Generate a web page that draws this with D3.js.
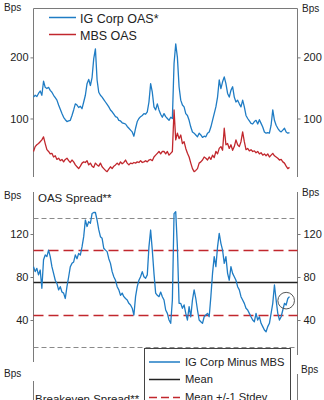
<!DOCTYPE html>
<html><head><meta charset="utf-8">
<script src="https://cdn.jsdelivr.net/npm/d3@7"></script>
<style>
body{margin:0;background:#fff}
svg{display:block;font-family:"Liberation Sans",Arial,sans-serif}
</style>
</head><body>
<svg id="c" width="324" height="400"></svg>
<script>
// ---- data ----
const igCorpOAS = [
135,138,136,141,145,138,161,151,149,151,
146,143,138,134,130,122,115,108,102,98,
95,96,97,105,114,124,122,118,120,116,
127,138,157,164,154,167,198,214,163,143,
138,135,131,127,123,119,114,111,107,103,
102,97,96,93,92,91,87,84,81,78,
71,84,95,100,103,105,108,107,111,127,
157,143,119,114,124,114,107,102,
108,103,100,97,102,100,190,222,200,152,
130,122,119,108,105,97,86,78,76,73,
70,76,73,69,71,70,76,78,86,97,
108,119,135,163,149,160,168,157,141,135,
146,152,135,127,130,124,119,130,119,105,
100,96,92,91,95,97,91,98,92,86,
78,76,77,76,89,114,97,89,84,80,
78,81,84,78,76,77
];
const mbsOAS = [
46,54,57,59,62,65,70,59,49,46,
42,43,37,39,33,35,31,33,29,33,
35,31,28,32,29,24,21,18,22,27,
29,28,31,24,27,22,20,27,24,22,
27,21,18,15,13,17,21,18,22,24,
27,24,29,26,28,32,27,24,27,26,
28,27,29,28,31,28,29,31,29,32,
33,31,37,40,43,46,42,46,
46,42,46,40,43,46,114,65,76,67,
73,59,62,51,43,37,27,18,13,15,
18,27,29,32,37,35,32,37,33,40,
36,46,42,51,54,48,84,57,59,51,
57,48,54,65,57,54,62,78,62,49,
51,47,49,46,47,44,46,42,44,40,
42,39,42,37,40,43,39,37,35,32,
33,29,27,22,18,20
];
const igMinusMBS = [
89.6,85,88,82,86.5,69.5,96,100.5,99,105,
99,89.6,83.4,77,74,68,71,66,65,60,
71,80,89.6,92.7,94,100.5,97,102,100.5,108,
117.5,133,127,131.5,130,139,140,140,133,124,
117.5,116,106.7,105,103.6,97,92.7,85,80.3,77,
71,68,63,65,61.7,60,58.6,55.5,54,51,
44.6,61.7,71,77,80.3,85,80.3,78.8,82,108,
123.7,105,83.4,65,63,61.7,66,61.7,
58.6,49.3,46.2,40,36.9,58.6,139,140.8,108,55.5,
55.5,50.9,54,46.2,40,52.4,43,58.6,68,60,
49.3,40,38.4,36.9,43,44.6,46.2,43,61.7,83.4,
99,89.6,108,120.6,111.3,105,92.7,99,83.4,77,
89.6,83.4,80.3,77,71,68,61.7,58.6,55.5,50.9,
49.3,46.2,43,40,38.4,46.2,40,43,36.9,33.8,
30.7,29,33.8,36.9,46.2,55.5,72.6,58.6,46.2,40,
43,49.3,55.5,54,60,61.7
];
const topTicks = [100, 200];
const midTicks = [40, 80, 120];
const spreadMean = 75;
const spreadStdev = 30;
const highlight = {index: 151, value: 58};
const topLegend = ["IG Corp OAS*", "MBS OAS"];
const midLegend = ["IG Corp Minus MBS", "Mean", "Mean +/-1 Stdev"];
const panelTitles = ["OAS Spread**", "Breakeven Spread**"];
const unitLabel = "Bps";

// ---- drawing ----
const BLUE = "#1f7cc4", RED = "#c1272d", AX = "#7a7a7a", TXT = "#222";
const svg = d3.select("#c");
const N = igCorpOAS.length;
const xL = 33.5, xR = 297.5;
const x = d3.scaleLinear().domain([0, N - 1]).range([33.5, 289.5]);
const yTop = d3.scaleLinear().domain([0, 280]).range([179.6, 8.5]);
const yMid = d3.scaleLinear().domain([0, 160]).range([363, 191]);

function vline(xx, y1, y2){
  svg.append("line").attr("x1", xx).attr("x2", xx).attr("y1", y1).attr("y2", y2)
    .attr("stroke", AX).attr("stroke-width", 1);
}
function axes(scale, ticks, y1, y2, y2r){
  const gl = svg.append("g").attr("transform", `translate(${xL},0)`)
    .call(d3.axisLeft(scale).tickValues(ticks).tickSize(3).tickPadding(2).tickSizeOuter(0));
  const gr = svg.append("g").attr("transform", `translate(${xR},0)`)
    .call(d3.axisRight(scale).tickValues(ticks).tickSize(3).tickPadding(3).tickSizeOuter(0));
  [gl, gr].forEach(g => {
    g.select(".domain").remove();
    g.selectAll("line").attr("stroke", AX);
    g.selectAll("text").attr("fill", TXT).style("font-size", "11px")
      .style("font-family", '"Liberation Sans",Arial,sans-serif');
  });
  vline(xL, y1, y2); vline(xR, y1, y2r);
}
function txt(s, xx, yy, size, anchor){
  return svg.append("text").attr("x", xx).attr("y", yy).attr("fill", TXT)
    .style("font-size", size + "px").attr("text-anchor", anchor || "start").text(s);
}

// top panel
svg.append("line").attr("x1", xL).attr("x2", xR).attr("y1", 8.5).attr("y2", 8.5)
  .attr("stroke", AX);
axes(yTop, topTicks, 8.5, 177, 177);
txt(unitLabel, 4, 11, 10);
txt(unitLabel, 302, 11.5, 10);

const lineTop = d3.line().x((d, i) => x(i)).y(d => yTop(d));
svg.append("path").datum(mbsOAS).attr("d", lineTop).attr("fill", "none")
  .attr("stroke", RED).attr("stroke-width", 1.3).attr("stroke-linejoin", "round");
svg.append("path").datum(igCorpOAS).attr("d", lineTop).attr("fill", "none")
  .attr("stroke", BLUE).attr("stroke-width", 1.3).attr("stroke-linejoin", "round");

[[BLUE, 17.5, 22.5], [RED, 34.5, 39.5]].forEach((c, i) => {
  svg.append("line").attr("x1", 49).attr("x2", 76).attr("y1", c[1]).attr("y2", c[1])
    .attr("stroke", c[0]).attr("stroke-width", 1.5);
  txt(topLegend[i], 80, c[2], 12.5);
});

// middle panel
axes(yMid, midTicks, 192, 362, 355);
txt(unitLabel, 4, 198.5, 10);
txt(unitLabel, 302, 196, 10);
txt(panelTitles[0], 38, 202, 11.5);

const refLines = [
  {v: spreadMean + 2 * spreadStdev, c: "#8a8a8a", w: 1, dash: "5,3"},
  {v: spreadMean - 2 * spreadStdev, c: "#8a8a8a", w: 1, dash: "5,3"},
  {v: spreadMean + spreadStdev, c: RED, w: 1.5, dash: "10,5"},
  {v: spreadMean - spreadStdev, c: RED, w: 1.5, dash: "10,5"},
  {v: spreadMean, c: "#222", w: 1.5, dash: null}
];
refLines.forEach(r => {
  const yy = Math.round(yMid(r.v)) + 0.5;
  svg.append("line").attr("x1", xL).attr("x2", xR).attr("y1", yy).attr("y2", yy)
    .attr("stroke", r.c).attr("stroke-width", r.w).attr("stroke-dasharray", r.dash);
});
const lineMid = d3.line().x((d, i) => x(i)).y(d => yMid(d));
svg.append("path").datum(igMinusMBS).attr("d", lineMid).attr("fill", "none")
  .attr("stroke", BLUE).attr("stroke-width", 1.3).attr("stroke-linejoin", "round");

svg.append("circle").attr("cx", x(highlight.index)).attr("cy", yMid(highlight.value))
  .attr("r", 8.3).attr("fill", "none").attr("stroke", "#555").attr("stroke-width", 1);

// bottom panel (cut off in the reference)
vline(xL, 381, 400); vline(xR, 374, 400);
txt(unitLabel, 4, 377, 10);
txt(unitLabel, 301, 373, 10);
txt(panelTitles[1], 35, 403, 11.5);

// legend box
svg.append("rect").attr("x", 144.5).attr("y", 348.5).attr("width", 146).attr("height", 70)
  .attr("fill", "#fff").attr("stroke", "#444").attr("stroke-width", 1);
const legItems = [
  {c: BLUE, w: 1.5, dash: null, y: 362},
  {c: "#222", w: 1.5, dash: null, y: 379.5},
  {c: RED, w: 1.5, dash: "8,4", y: 397.5}
];
legItems.forEach((it, i) => {
  svg.append("line").attr("x1", 149).attr("x2", 180).attr("y1", it.y).attr("y2", it.y)
    .attr("stroke", it.c).attr("stroke-width", it.w).attr("stroke-dasharray", it.dash);
  txt(midLegend[i], 185, it.y + 3.5, 11.2);
});
</script>
</body></html>
